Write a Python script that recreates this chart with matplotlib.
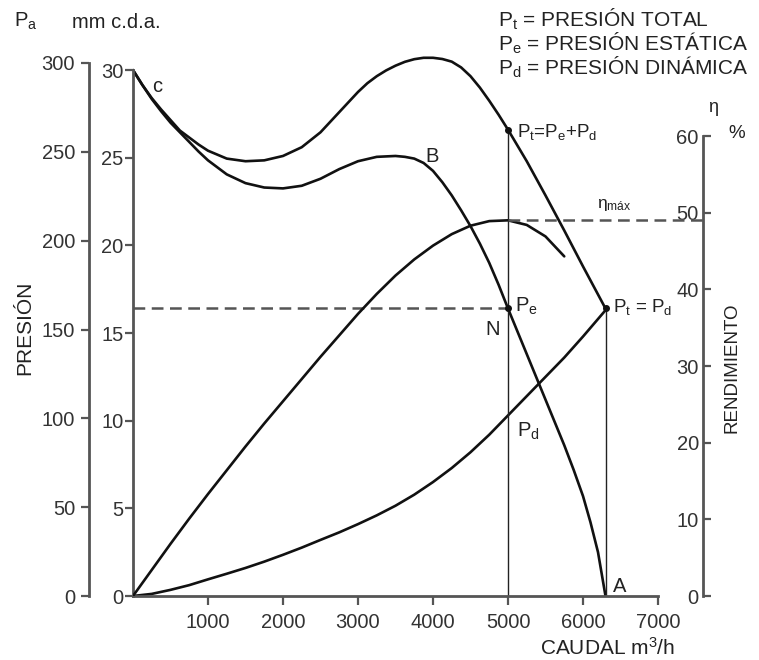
import numpy as np
import matplotlib
matplotlib.use("Agg")
import matplotlib.pyplot as plt

plt.rcParams['font.family'] = ['Liberation Sans', 'DejaVu Sans']
plt.rcParams['mathtext.fontset'] = 'custom'
plt.rcParams['mathtext.rm'] = 'Liberation Sans'
plt.rcParams['mathtext.it'] = 'Liberation Sans:italic'

# total pressure (mm c.d.a.) against caudal (m3/h)
q_total = [0, 125, 250, 375, 500, 625, 750, 875, 1000, 1250, 1500, 1750, 2000,
           2250, 2500, 2750, 3000, 3125, 3250, 3375, 3500, 3625, 3750, 3875,
           4000, 4125, 4250, 4375, 4500, 4625, 4750, 4875, 5000, 5250, 5500,
           5750, 6000, 6300]
p_total = [30.0, 29.15, 28.4, 27.75, 27.15, 26.55, 26.15, 25.75, 25.4, 24.95,
           24.8, 24.85, 25.1, 25.6, 26.45, 27.6, 28.75, 29.25, 29.65, 29.98,
           30.25, 30.47, 30.62, 30.7, 30.7, 30.63, 30.48, 30.15, 29.65, 29.0,
           28.25, 27.45, 26.6, 24.8, 22.85, 20.85, 18.8, 16.4]

# static pressure (mm c.d.a.)
q_static = [0, 125, 250, 375, 500, 625, 750, 875, 1000, 1250, 1500, 1750, 2000,
            2250, 2500, 2750, 3000, 3250, 3500, 3625, 3750, 3875, 4000, 4125,
            4250, 4375, 4500, 4625, 4750, 4875, 5000, 5125, 5250, 5375, 5500,
            5625, 5750, 5875, 6000, 6100, 6200, 6300]
p_static = [30.0, 29.15, 28.35, 27.65, 27.0, 26.45, 25.9, 25.35, 24.85, 24.05,
            23.55, 23.3, 23.25, 23.4, 23.8, 24.35, 24.8, 25.05, 25.1, 25.05,
            24.95, 24.7, 24.25, 23.6, 22.85, 22.0, 21.1, 20.1, 19.0, 17.75,
            16.4, 15.1, 13.8, 12.5, 11.2, 9.9, 8.6, 7.2, 5.7, 4.2, 2.5, 0.0]

# dynamic pressure (mm c.d.a.)
q_dynamic = [0, 250, 500, 750, 1000, 1250, 1500, 1750, 2000, 2250, 2500, 2750,
             3000, 3250, 3500, 3750, 4000, 4250, 4500, 4750, 5000, 5250, 5500,
             5750, 6000, 6300]
p_dynamic = [0.0, 0.12, 0.35, 0.62, 0.95, 1.27, 1.6, 1.96, 2.35, 2.76, 3.2,
             3.63, 4.1, 4.6, 5.15, 5.78, 6.5, 7.3, 8.2, 9.2, 10.3, 11.4, 12.5,
             13.6, 14.8, 16.3]

# efficiency (%)
q_eta = [0, 250, 500, 750, 1000, 1250, 1500, 1750, 2000, 2250, 2500, 2750,
         3000, 3250, 3500, 3750, 4000, 4250, 4500, 4750, 5000, 5250, 5500, 5750]
eta = [0, 3.4, 6.8, 10.1, 13.3, 16.4, 19.5, 22.5, 25.4, 28.3, 31.2, 34.0, 36.8,
       39.4, 41.8, 43.9, 45.7, 47.2, 48.3, 48.9, 49.0, 48.4, 46.9, 44.3]

q_nominal = 5000
p_total_n = 26.6
p_static_n = 16.4
q_max = 6300
p_max_dyn = 16.4
eta_max = 49.0

x_ticks = [1000, 2000, 3000, 4000, 5000, 6000, 7000]
mm_ticks = [0, 5, 10, 15, 20, 25, 30]
pa_ticks = [0, 50, 100, 150, 200, 250, 300]
eta_ticks = [0, 10, 20, 30, 40, 50, 60]

W, H = 759, 660
AX_L, AX_R, AX_B, AX_T = 133, 658, 596, 35
axis_col = '#555555'
txt_col = '#222222'
fs = 14.5


def fx(x):
    return x / W


def fy(y):
    return 1 - y / H


fig = plt.figure(figsize=(W / 100, H / 100), dpi=100)
ax = fig.add_axes([fx(AX_L), fy(AX_B), (AX_R - AX_L) / W, (AX_B - AX_T) / H])
ax.set_xlim(0, 7000)
ax.set_ylim(0, 32.0)
q_per_px = 7000 / (AX_R - AX_L)

line_kw = dict(color='#111111', lw=1.9, solid_capstyle='round',
               solid_joinstyle='round')
ax.plot(q_total, p_total, **line_kw)
ax.plot(q_static, p_static, **line_kw)
ax.plot(q_dynamic, p_dynamic, **line_kw)

# efficiency on its own scale
axe = ax.twinx()
axe.set_ylim(0, (AX_B - AX_T) / ((595 - 135) / 60.0))
axe.plot(q_eta, eta, **line_kw)
axe.plot([q_nominal, (703 - AX_L) * q_per_px], [eta_max, eta_max],
         color=axis_col, lw=1.8, ls=(0, (4.7, 2.6)), clip_on=False)

# reference lines
ax.plot([0, q_nominal], [p_static_n, p_static_n], color=axis_col, lw=1.8,
        ls=(0, (4.7, 2.6)))
ax.plot([q_nominal, q_nominal], [0, p_total_n], color='#222222', lw=1.0)
ax.plot([q_max, q_max], [0, p_max_dyn], color='#222222', lw=1.0)
ax.plot([q_nominal, q_nominal, q_max], [p_total_n, p_static_n, p_max_dyn], 'o',
        color='#111111', ms=4)

# main axis styling
for s in ['top', 'right']:
    ax.spines[s].set_visible(False)
for s in ['left', 'bottom']:
    ax.spines[s].set_color(axis_col)
    ax.spines[s].set_linewidth(2.0)
ax.spines['left'].set_bounds(0, 30)
ax.spines['bottom'].set_bounds(0, 7000)
ax.set_xticks(x_ticks)
ax.set_yticks(mm_ticks)
ax.tick_params(axis='x', direction='out', length=6.5, width=1.6, color=axis_col,
               labelsize=fs, labelcolor='#333333', pad=6)
ax.tick_params(axis='y', direction='out', length=6, width=1.6, color=axis_col,
               labelsize=fs, labelcolor='#333333', pad=1)

# Pa axis
axp = ax.twinx()
axp.set_ylim(0, (AX_B - AX_T) / ((595 - 62) / 300.0))
axp.yaxis.tick_left()
for s in ['top', 'right', 'bottom']:
    axp.spines[s].set_visible(False)
axp.spines['left'].set_position(('axes', (89 - AX_L) / (AX_R - AX_L)))
axp.spines['left'].set_bounds(0, 300)
axp.spines['left'].set_color(axis_col)
axp.spines['left'].set_linewidth(2.0)
axp.set_yticks(pa_ticks)
axp.tick_params(axis='y', direction='out', length=6, width=1.6, color=axis_col,
                labelsize=fs, labelcolor='#333333', pad=4)

# efficiency axis
axe.yaxis.tick_left()
for s in ['top', 'right', 'bottom']:
    axe.spines[s].set_visible(False)
axe.spines['left'].set_position(('axes', (703 - AX_L) / (AX_R - AX_L)))
axe.spines['left'].set_bounds(0, 60)
axe.spines['left'].set_color(axis_col)
axe.spines['left'].set_linewidth(2.0)
axe.set_yticks(eta_ticks)
axe.tick_params(axis='y', direction='in', length=6, width=1.6, color=axis_col,
                labelsize=fs, labelcolor='#333333', pad=3)


def ftext(x, y, s, **kw):
    kw.setdefault('fontsize', fs)
    kw.setdefault('color', txt_col)
    fig.text(fx(x), fy(y), s, **kw)


ftext(14, 27, r'P$_\mathrm{a}$', va='baseline')
ftext(72, 28, 'mm c.d.a.', va='baseline')
ftext(498, 27, r'P$_\mathrm{t}$ = PRESIÓN TOTAL', va='baseline', fontsize=15)
ftext(498, 51, r'P$_\mathrm{e}$ = PRESIÓN ESTÁTICA', va='baseline', fontsize=15)
ftext(498, 75, r'P$_\mathrm{d}$ = PRESIÓN DINÁMICA', va='baseline', fontsize=15)
ftext(157, 87, 'c', ha='center', va='center')
ftext(432, 162, 'B', ha='center', va='baseline')
ftext(517, 137, r'P$_\mathrm{t}$=P$_\mathrm{e}$+P$_\mathrm{d}$', va='baseline',
      fontsize=13.5)
ftext(597, 208, r'η$_\mathrm{máx}$', va='baseline', fontsize=12.5)
ftext(515, 312, r'P$_\mathrm{e}$', va='baseline')
ftext(493, 335, 'N', ha='center', va='baseline')
ftext(613, 312, r'P$_\mathrm{t}$ = P$_\mathrm{d}$', va='baseline', fontsize=13.5)
ftext(517, 437, r'P$_\mathrm{d}$', va='baseline')
ftext(613, 592, 'A', va='baseline')
ftext(713, 108, 'η', ha='center', va='center', fontsize=13)
ftext(737, 134, '%', ha='center', va='center', fontsize=13.5)
ftext(25, 328, 'PRESIÓN', rotation=90, ha='center', va='center', fontsize=15)
ftext(732, 368, 'RENDIMIENTO', rotation=90, ha='center', va='center',
      fontsize=13.5)
ftext(607, 655, r'CAUDAL m$^\mathrm{3}$/h', ha='center', va='baseline',
      fontsize=15)

fig.savefig('out.png', dpi=100)
